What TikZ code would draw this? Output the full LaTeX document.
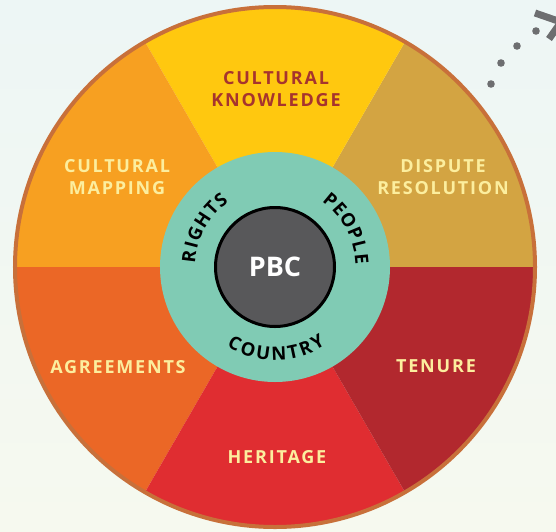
\documentclass[tikz,border=0pt]{standalone}
\usepackage{fontspec}
\newfontfamily\lblfont[LetterSpace=10]{Open Sans}
\newfontfamily\ringfont{Open Sans}
\definecolor{bgtop}{HTML}{EDF6F5}
\definecolor{bgbot}{HTML}{F6F9EF}
\definecolor{rimc}{HTML}{C8703A}
\definecolor{cknow}{HTML}{FFC80F}
\definecolor{cdisp}{HTML}{D3A442}
\definecolor{cmap}{HTML}{F7A021}
\definecolor{cagr}{HTML}{EB6726}
\definecolor{cher}{HTML}{E02D31}
\definecolor{cten}{HTML}{B2282E}
\definecolor{cteal}{HTML}{80CBB4}
\definecolor{cdark}{HTML}{58585A}
\definecolor{cream}{HTML}{FCEE9E}
\definecolor{dred}{HTML}{A6342E}
\definecolor{cgray}{HTML}{6D6E70}
\begin{document}
\begin{tikzpicture}[x=1pt,y=1pt,
  lbl/.style={font=\lblfont\bfseries\fontsize{18}{21.5}\selectfont, text=cream, align=center, inner sep=0pt},
  ringl/.style={font=\ringfont\bfseries\fontsize{18.5}{18.5}\selectfont, text=black, inner sep=0pt},
  dotc/.style={fill=cgray}
]
\fill[top color=bgtop, bottom color=bgbot] (-275,-264) rectangle (281,267);
\useasboundingbox (-275,-264) rectangle (281,267);
% sectors
\fill[cdisp] (0,0) -- (0:260) arc[start angle=0, end angle=60, radius=260] -- cycle;
\fill[cknow] (0,0) -- (60:260) arc[start angle=60, end angle=120, radius=260] -- cycle;
\fill[cmap] (0,0) -- (120:260) arc[start angle=120, end angle=180, radius=260] -- cycle;
\fill[cagr] (0,0) -- (180:260) arc[start angle=180, end angle=240, radius=260] -- cycle;
\fill[cher] (0,0) -- (240:260) arc[start angle=240, end angle=300, radius=260] -- cycle;
\fill[cten] (0,0) -- (300:260) arc[start angle=300, end angle=360, radius=260] -- cycle;
\draw[rimc, line width=4pt] (0,0) circle[radius=260];
% inner rings
\node[circle, fill=cteal, minimum size=230pt, inner sep=0pt] (ring) at (0,0) {};
\node[circle, fill=cdark, draw=black, line width=3pt, minimum size=119pt, inner sep=0pt,
      font=\ringfont\bfseries\fontsize{27}{27}\selectfont, text=white] (pbc) at (0,0) {PBC};
% ring words, letter by letter
\foreach \l/\a [count=\i] in {R/173.1, I/165.4, G/157.4, H/146.9, T/137.3, S/128.9}
  \node[ringl, rotate=\a-90] (rights\i) at (\a:86.5) {\l};
\foreach \l/\a [count=\i] in {P/50.4, E/41.8, O/32.4, P/22.5, L/13.8, E/5.6}
  \node[ringl, rotate=\a-90] (people\i) at (\a:87) {\l};
\foreach \l/\a [count=\i] in {C/242.4, O/252.0, U/262.2, N/272.6, T/282.0, R/290.7, Y/299.4}
  \node[ringl, rotate=\a+90] (country\i) at (\a:86.5) {\l};
% sector labels
\node[lbl, text=dred] (know) at (1,178) {CULTURAL\\KNOWLEDGE};
\node[lbl] (map) at (-158,90) {CULTURAL\\MAPPING};
\node[lbl] (disp) at (168,90) {DISPUTE\\RESOLUTION};
\node[lbl] (agr) at (-157,-100) {AGREEMENTS};
\node[lbl] (ten) at (161,-99) {TENURE};
\node[lbl] (her) at (2,-190) {HERITAGE};
% dots and arrow head
\fill[dotc] (216,183) circle[radius=3.8];
\fill[dotc] (226,204) circle[radius=3.8];
\fill[dotc] (242,221) circle[radius=3.8];
\fill[dotc] (261,236) circle[radius=3.8];
\draw[cgray, line width=7pt, line join=miter] (260,254) -- (286,245) -- (274,228);
\end{tikzpicture}
\end{document}
